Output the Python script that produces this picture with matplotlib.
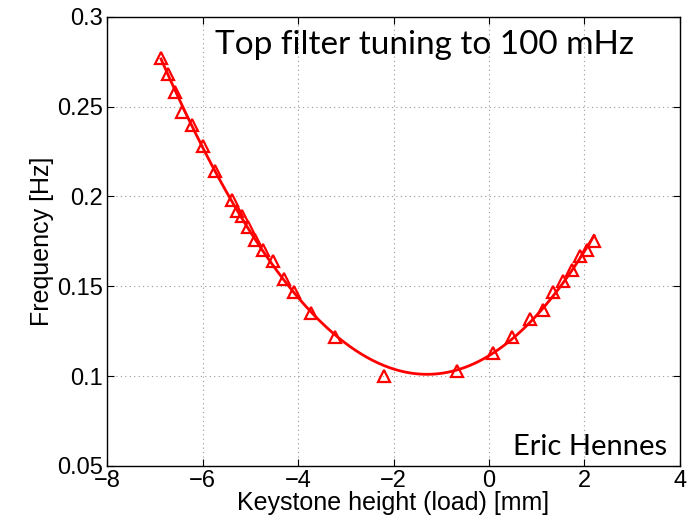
import numpy as np
import matplotlib
matplotlib.use("Agg")
import matplotlib.pyplot as plt

# keystone height (mm) and measured frequency (Hz)
height = [-6.87, -6.72, -6.58, -6.43, -6.22, -5.99, -5.74, -5.38, -5.28, -5.17,
          -5.05, -4.90, -4.73, -4.52, -4.29, -4.08, -3.73, -3.23, -2.20, -0.67,
          0.08, 0.48, 0.86, 1.13, 1.34, 1.55, 1.74, 1.91, 2.05, 2.20]
freq = [0.277, 0.268, 0.258, 0.247, 0.240, 0.228, 0.214, 0.198, 0.192, 0.189,
        0.183, 0.176, 0.170, 0.164, 0.154, 0.147, 0.135, 0.122, 0.100, 0.103,
        0.113, 0.122, 0.132, 0.137, 0.147, 0.153, 0.159, 0.167, 0.170, 0.175]

x = np.array(height)
y = np.array(freq)

# smooth fit through the measurements
coef = np.polyfit(x, y, 3)
xf = np.linspace(x.min(), x.max(), 300)
yf = np.polyval(coef, xf)

plt.rcParams["font.family"] = ["Liberation Sans", "DejaVu Sans"]

fig = plt.figure(figsize=(6.91, 5.27), dpi=100)
ax = fig.add_axes([0.155, 0.116, 0.829, 0.852])

ax.plot(xf, yf, color="red", lw=2)
ax.plot(x, y, "^", color="red", mfc="none", mew=1.6, ms=8)

ax.set_xlim(-8, 4)
ax.set_ylim(0.05, 0.3)
ax.set_xticks([-8, -6, -4, -2, 0, 2, 4])
ax.set_xticklabels(["\u22128", "\u22126", "\u22124", "\u22122", "0", "2", "4"])
ax.set_yticks([0.05, 0.1, 0.15, 0.2, 0.25, 0.3])
ax.set_yticklabels(["0.05", "0.1", "0.15", "0.2", "0.25", "0.3"])
ax.tick_params(direction="in", top=True, right=True, labelsize=17, length=5, pad=3)
ax.grid(True, color="#999999", linestyle=(0, (1, 3)), lw=0.8)
for s in ax.spines.values():
    s.set_linewidth(1)

ax.set_xlabel("Keystone height (load) [mm]", fontsize=18, labelpad=-1)
ax.set_ylabel("Frequency [Hz]", fontsize=18, labelpad=2)

ax.text(0.188, 0.938, "Top filter tuning to 100 mHz", transform=ax.transAxes,
        fontsize=24, family="Lato", va="center", ha="left")
ax.text(0.977, 0.042, "Eric Hennes", transform=ax.transAxes,
        fontsize=21, family="Lato", va="center", ha="right")

fig.savefig("out.png", dpi=100)
